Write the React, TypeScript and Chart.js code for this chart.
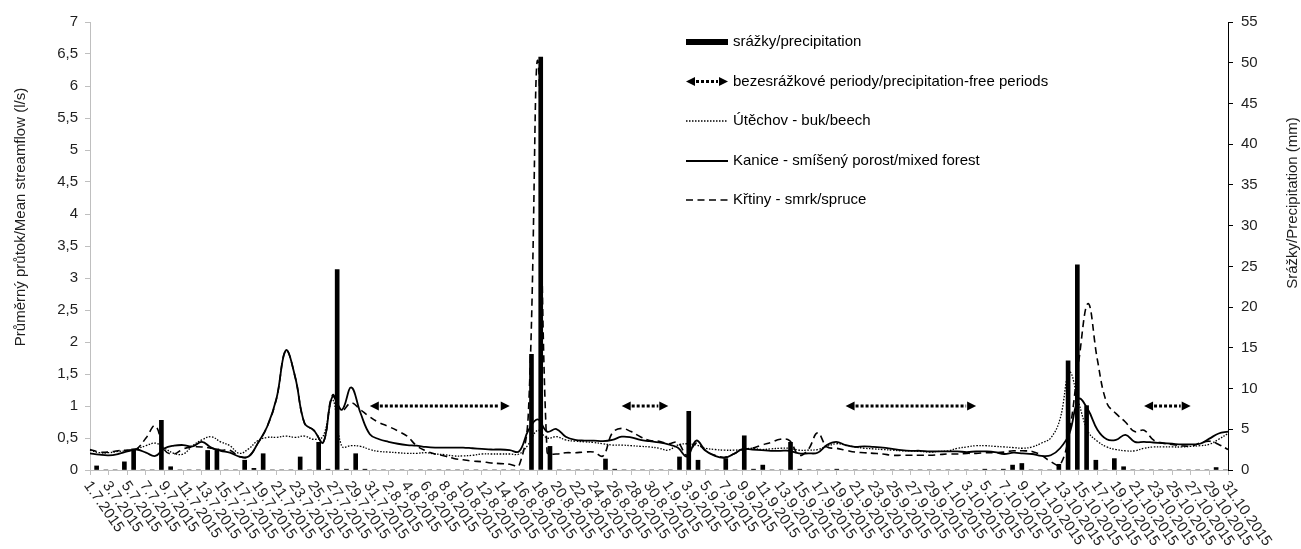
import React, { useEffect, useRef } from "react";
import { Chart, registerables } from "chart.js";

Chart.register(...registerables);

const FONT = '"Liberation Sans", Arial, Helvetica, sans-serif';
const TEXT = "#1f1f1f";

const dates: string[] = [
  "1.7.2015","2.7.2015","3.7.2015","4.7.2015","5.7.2015","6.7.2015","7.7.2015","8.7.2015","9.7.2015","10.7.2015",
  "11.7.2015","12.7.2015","13.7.2015","14.7.2015","15.7.2015","16.7.2015","17.7.2015","18.7.2015","19.7.2015","20.7.2015",
  "21.7.2015","22.7.2015","23.7.2015","24.7.2015","25.7.2015","26.7.2015","27.7.2015","28.7.2015","29.7.2015","30.7.2015","31.7.2015",
  "1.8.2015","2.8.2015","3.8.2015","4.8.2015","5.8.2015","6.8.2015","7.8.2015","8.8.2015","9.8.2015","10.8.2015",
  "11.8.2015","12.8.2015","13.8.2015","14.8.2015","15.8.2015","16.8.2015","17.8.2015","18.8.2015","19.8.2015","20.8.2015",
  "21.8.2015","22.8.2015","23.8.2015","24.8.2015","25.8.2015","26.8.2015","27.8.2015","28.8.2015","29.8.2015","30.8.2015","31.8.2015",
  "1.9.2015","2.9.2015","3.9.2015","4.9.2015","5.9.2015","6.9.2015","7.9.2015","8.9.2015","9.9.2015","10.9.2015",
  "11.9.2015","12.9.2015","13.9.2015","14.9.2015","15.9.2015","16.9.2015","17.9.2015","18.9.2015","19.9.2015","20.9.2015",
  "21.9.2015","22.9.2015","23.9.2015","24.9.2015","25.9.2015","26.9.2015","27.9.2015","28.9.2015","29.9.2015","30.9.2015",
  "1.10.2015","2.10.2015","3.10.2015","4.10.2015","5.10.2015","6.10.2015","7.10.2015","8.10.2015","9.10.2015","10.10.2015",
  "11.10.2015","12.10.2015","13.10.2015","14.10.2015","15.10.2015","16.10.2015","17.10.2015","18.10.2015","19.10.2015","20.10.2015",
  "21.10.2015","22.10.2015","23.10.2015","24.10.2015","25.10.2015","26.10.2015","27.10.2015","28.10.2015","29.10.2015","30.10.2015","31.10.2015",
];

// Srážky / precipitation (mm), one value per day
const precipitation: number[] = [
  0.5, 0, 0, 1.0, 2.6, 0, 0, 6.1, 0.4, 0,
  0, 0, 2.4, 2.6, 0, 0, 1.2, 0.2, 2.0, 0,
  0, 0, 1.6, 0, 3.4, 0.1, 24.6, 0.1, 2.0, 0.1, 0,
  0, 0, 0, 0, 0, 0, 0, 0, 0, 0,
  0, 0, 0, 0, 0, 0, 14.2, 50.7, 2.9, 0,
  0, 0, 0, 0, 1.35, 0.1, 0, 0, 0, 0, 0,
  0, 1.6, 7.2, 1.2, 0, 0, 1.4, 0, 4.2, 0.1,
  0.6, 0, 0, 3.4, 0.1, 0, 0, 0, 0.1, 0,
  0, 0, 0, 0, 0, 0, 0, 0, 0, 0,
  0, 0, 0, 0, 0.1, 0, 0.1, 0.6, 0.8, 0,
  0, 0, 0.7, 13.4, 25.2, 7.9, 1.2, 0, 1.4, 0.4,
  0, 0, 0, 0, 0, 0, 0, 0, 0, 0.3, 0,
];

// Útěchov - buk/beech (l/s)
const utechov: number[] = [
  0.31, 0.27, 0.27, 0.29, 0.30, 0.33, 0.38, 0.42, 0.34, 0.26,
  0.25, 0.38, 0.47, 0.52, 0.44, 0.38, 0.26, 0.33, 0.46, 0.51,
  0.51, 0.53, 0.51, 0.53, 0.48, 0.53, 1.10, 0.37, 0.38, 0.37, 0.32,
  0.29, 0.28, 0.27, 0.26, 0.26, 0.27, 0.25, 0.24, 0.22, 0.22,
  0.23, 0.25, 0.25, 0.25, 0.25, 0.25, 0.40, 0.62, 0.50, 0.52,
  0.47, 0.45, 0.44, 0.43, 0.41, 0.39, 0.39, 0.38, 0.37, 0.36, 0.34,
  0.31, 0.39, 0.41, 0.39, 0.34, 0.32, 0.31, 0.31, 0.32, 0.34,
  0.32, 0.33, 0.34, 0.34, 0.31, 0.31, 0.32, 0.37, 0.41, 0.39,
  0.36, 0.34, 0.33, 0.32, 0.31, 0.30, 0.30, 0.29, 0.28, 0.29,
  0.30, 0.34, 0.36, 0.38, 0.38, 0.37, 0.36, 0.35, 0.34, 0.36,
  0.42, 0.50, 0.80, 1.53, 1.05, 0.60, 0.45, 0.36, 0.32, 0.30,
  0.30, 0.34, 0.36, 0.36, 0.36, 0.36, 0.37, 0.38, 0.40, 0.48, 0.57,
];

// Kanice - smíšený porost/mixed forest (l/s)
const kanice: number[] = [
  0.26, 0.24, 0.23, 0.25, 0.29, 0.32, 0.27, 0.22, 0.34, 0.38,
  0.39, 0.37, 0.44, 0.35, 0.30, 0.27, 0.21, 0.21, 0.42, 0.68,
  1.12, 1.87, 1.45, 0.73, 0.62, 0.43, 1.15, 0.94, 1.29, 0.89, 0.56,
  0.48, 0.44, 0.41, 0.39, 0.38, 0.36, 0.35, 0.35, 0.35, 0.35,
  0.34, 0.33, 0.32, 0.32, 0.31, 0.29, 0.62, 0.79, 0.60, 0.64,
  0.52, 0.47, 0.46, 0.46, 0.45, 0.47, 0.52, 0.51, 0.47, 0.45, 0.43,
  0.40, 0.35, 0.21, 0.46, 0.30, 0.22, 0.19, 0.25, 0.33, 0.32,
  0.31, 0.30, 0.30, 0.30, 0.26, 0.26, 0.27, 0.39, 0.44, 0.39,
  0.36, 0.37, 0.36, 0.35, 0.33, 0.31, 0.30, 0.30, 0.29, 0.29,
  0.29, 0.29, 0.28, 0.29, 0.29, 0.28, 0.25, 0.27, 0.26, 0.25,
  0.22, 0.23, 0.34, 0.57, 1.11, 0.94, 0.63, 0.48, 0.47, 0.55,
  0.44, 0.44, 0.43, 0.42, 0.41, 0.40, 0.40, 0.41, 0.49, 0.57, 0.60,
];

// Křtiny - smrk/spruce (l/s)
const krtiny: number[] = [
  0.32, 0.28, 0.28, 0.30, 0.31, 0.33, 0.50, 0.69, 0.31, 0.25,
  0.33, 0.36, 0.36, 0.34, 0.31, 0.31, 0.21, 0.21, 0.42, 0.68,
  1.12, 1.87, 1.45, 0.73, 0.62, 0.43, 1.17, 0.93, 1.05, 0.94, 0.83,
  0.74, 0.68, 0.61, 0.53, 0.38, 0.30, 0.25, 0.22, 0.18, 0.16,
  0.14, 0.13, 0.11, 0.10, 0.09, 0.07, 0.90, 6.40, 0.28, 0.25,
  0.27, 0.27, 0.28, 0.28, 0.22, 0.58, 0.65, 0.60, 0.52, 0.46, 0.45,
  0.41, 0.43, 0.23, 0.42, 0.30, 0.23, 0.20, 0.25, 0.32, 0.34,
  0.39, 0.43, 0.48, 0.46, 0.23, 0.32, 0.58, 0.36, 0.34, 0.31,
  0.28, 0.27, 0.26, 0.25, 0.23, 0.23, 0.23, 0.23, 0.23, 0.24,
  0.25, 0.25, 0.26, 0.26, 0.27, 0.27, 0.28, 0.30, 0.30, 0.29,
  0.23, 0.13, 0.08, 0.60, 1.70, 2.60, 1.72, 1.05, 0.88, 0.75,
  0.60, 0.62, 0.47, 0.42, 0.40, 0.38, 0.37, 0.42, 0.45, 0.40, 0.32,
];

// Bezesrážkové periody / precipitation-free periods (day indices) and arrow level (l/s)
const periodStart: number[] = [30, 57, 81, 113];
const periodEnd: number[] = [45, 62, 95, 118];
const arrowLevel = 1;

const leftTicks: number[] = [0, 0.5, 1, 1.5, 2, 2.5, 3, 3.5, 4, 4.5, 5, 5.5, 6, 6.5, 7];
const rightTicks: number[] = [0, 5, 10, 15, 20, 25, 30, 35, 40, 45, 50, 55];

const legendLabels: string[] = [
  "srážky/precipitation",
  "bezesrážkové periody/precipitation-free periods",
  "Útěchov - buk/beech",
  "Kanice - smíšený porost/mixed forest",
  "Křtiny - smrk/spruce",
];

const leftTitle = "Průměrný průtok/Mean streamflow (l/s)";
const rightTitle = "Srážky/Precipitation (mm)";

function drawArrow(ctx: CanvasRenderingContext2D, x1: number, x2: number, y: number) {
  const hl = 9;
  const hw = 4.5;
  ctx.save();
  ctx.fillStyle = "#000";
  ctx.beginPath();
  ctx.moveTo(x1, y);
  ctx.lineTo(x1 + hl, y - hw);
  ctx.lineTo(x1 + hl, y + hw);
  ctx.closePath();
  ctx.fill();
  ctx.beginPath();
  ctx.moveTo(x2, y);
  ctx.lineTo(x2 - hl, y - hw);
  ctx.lineTo(x2 - hl, y + hw);
  ctx.closePath();
  ctx.fill();
  ctx.strokeStyle = "#000";
  ctx.lineWidth = 3;
  ctx.setLineDash([3, 2]);
  ctx.beginPath();
  ctx.moveTo(x1 + hl + 1, y);
  ctx.lineTo(x2 - hl - 1, y);
  ctx.stroke();
  ctx.restore();
}

const decorPlugin = {
  id: "decor",
  afterDatasetsDraw(chart: any) {
    const ctx: CanvasRenderingContext2D = chart.ctx;
    const xs = chart.scales.x;
    const ys = chart.scales.y;
    const ay = ys.getPixelForValue(arrowLevel);
    for (let k = 0; k < periodStart.length; k++) {
      drawArrow(ctx, xs.getPixelForValue(periodStart[k]), xs.getPixelForValue(periodEnd[k]), ay);
    }
  },
  afterDraw(chart: any) {
    const ctx: CanvasRenderingContext2D = chart.ctx;
    const xs = chart.scales.x;
    const area = chart.chartArea;
    ctx.save();
    ctx.fillStyle = TEXT;
    ctx.font = `15px ${FONT}`;
    ctx.textAlign = "left";
    ctx.textBaseline = "middle";
    const ang = (55 * Math.PI) / 180;
    dates.forEach((d, i) => {
      if (i % 2 !== 0) return;
      const px = xs.getPixelForValue(i);
      ctx.save();
      ctx.translate(px - 3, area.bottom + 13);
      ctx.rotate(ang);
      ctx.fillText(d, 0, 0);
      ctx.restore();
    });

    // axis titles
    ctx.textAlign = "center";
    ctx.save();
    ctx.translate(21, 217);
    ctx.rotate(-Math.PI / 2);
    ctx.fillText(leftTitle, 0, 0);
    ctx.restore();
    ctx.save();
    ctx.translate(1293, 203);
    ctx.rotate(-Math.PI / 2);
    ctx.fillText(rightTitle, 0, 0);
    ctx.restore();

    // legend
    const lx0 = 686;
    const lx1 = 728;
    const tx = 733;
    const rows = [42, 81.5, 121, 161, 200];
    ctx.textAlign = "left";
    ctx.fillStyle = "#000";
    legendLabels.forEach((lab, k) => {
      const y = rows[k];
      ctx.save();
      ctx.strokeStyle = "#000";
      ctx.fillStyle = "#000";
      if (k === 0) {
        ctx.fillRect(lx0, y - 3, lx1 - lx0, 6);
      } else if (k === 1) {
        drawArrow(ctx, lx0, lx1, y);
      } else {
        ctx.beginPath();
        if (k === 2) {
          ctx.lineWidth = 1.3;
          ctx.setLineDash([1.5, 1.5]);
        } else if (k === 3) {
          ctx.lineWidth = 1.8;
        } else {
          ctx.lineWidth = 1.6;
          ctx.setLineDash([7, 4.5]);
        }
        ctx.moveTo(lx0, y);
        ctx.lineTo(lx1, y);
        ctx.stroke();
      }
      ctx.restore();
      ctx.fillStyle = "#000";
      ctx.fillText(lab, tx, y);
    });
    ctx.restore();
  },
};

export default function App() {
  const canvasRef = useRef<HTMLCanvasElement | null>(null);

  useEffect(() => {
    if (!canvasRef.current) return;
    const tickFont = { family: FONT, size: 15 };
    const chart = new Chart(canvasRef.current, {
      type: "line",
      data: {
        labels: dates,
        datasets: [
          {
            type: "line",
            label: legendLabels[3],
            data: kanice,
            borderColor: "#000",
            borderWidth: 1.8,
            tension: 0.4,
            pointRadius: 0,
            fill: false,
            xAxisID: "x",
            yAxisID: "y",
            order: 1,
          },
          {
            type: "line",
            label: legendLabels[4],
            data: krtiny,
            borderColor: "#000",
            borderWidth: 1.6,
            borderDash: [7, 4.5],
            tension: 0.4,
            pointRadius: 0,
            fill: false,
            xAxisID: "x",
            yAxisID: "y",
            order: 2,
          },
          {
            type: "line",
            label: legendLabels[2],
            data: utechov,
            borderColor: "#000",
            borderWidth: 1.3,
            borderDash: [1.5, 1.5],
            tension: 0.4,
            pointRadius: 0,
            fill: false,
            xAxisID: "x",
            yAxisID: "y",
            order: 3,
          },
          {
            type: "bar",
            label: legendLabels[0],
            data: precipitation,
            backgroundColor: "#000",
            borderWidth: 0,
            barThickness: 4,
            xAxisID: "x2",
            yAxisID: "y1",
            order: 5,
          },
        ] as any,
      },
      options: {
        animation: false,
        responsive: true,
        maintainAspectRatio: false,
        layout: { padding: { top: 22, left: 0, right: 0, bottom: 0 } },
        plugins: {
          legend: { display: false },
          tooltip: { enabled: false },
          title: { display: false },
        },
        scales: {
          x: {
            type: "category",
            offset: false,
            ticks: { display: false, autoSkip: false },
            grid: {
              drawOnChartArea: false,
              drawTicks: true,
              tickLength: 5,
              color: (c: any) => (c.index % 2 === 0 ? "#bfbfbf" : "rgba(0,0,0,0)"),
            },
            border: { color: "#bfbfbf" },
            afterFit: (s: any) => {
              s.height = 79;
            },
          },
          x2: {
            type: "category",
            offset: true,
            display: false,
            grid: { display: false },
          },
          y: {
            type: "linear",
            position: "left",
            min: 0,
            max: 7,
            afterBuildTicks: (s: any) => {
              s.ticks = leftTicks.map((v) => ({ value: v }));
            },
            ticks: {
              font: tickFont,
              color: TEXT,
              padding: 7,
              callback: (v: any) => String(Math.round(Number(v) * 10) / 10).replace(".", ","),
            },
            grid: { drawOnChartArea: false, tickLength: 5, color: "#bfbfbf" },
            border: { color: "#bfbfbf" },
            afterFit: (s: any) => {
              s.width = 90;
            },
          },
          y1: {
            type: "linear",
            position: "right",
            min: 0,
            max: 55,
            afterBuildTicks: (s: any) => {
              s.ticks = rightTicks.map((v) => ({ value: v }));
            },
            ticks: { font: tickFont, color: TEXT, padding: 8 },
            grid: { drawOnChartArea: false, tickLength: 5, color: "#000" },
            border: { color: "#000" },
            afterFit: (s: any) => {
              s.width = 73;
            },
          },
        },
      } as any,
      plugins: [decorPlugin],
    });
    return () => chart.destroy();
  }, []);

  return (
    <div style={{ position: "fixed", left: 0, top: 0, width: 1301, height: 549, background: "#fff" }}>
      <canvas ref={canvasRef} style={{ display: "block" }} />
    </div>
  );
}
